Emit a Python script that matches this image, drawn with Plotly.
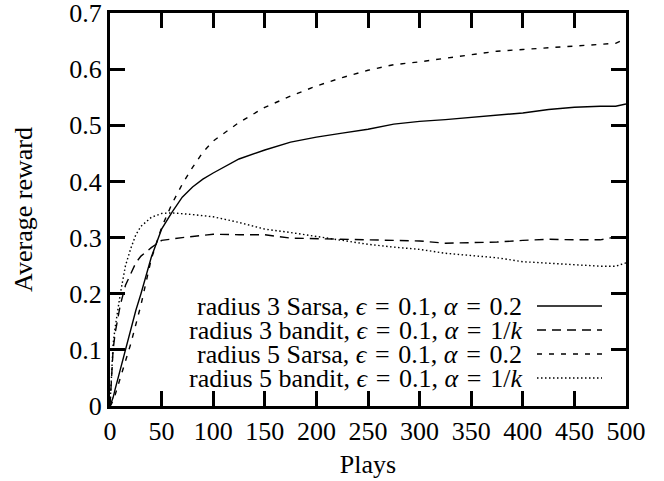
import plotly.graph_objects as go

# ---- data ----
plays = [0, 1, 3, 5, 10, 15, 20, 25, 30, 40, 50, 60, 70, 80, 90, 100, 125, 150, 175,
         200, 225, 250, 275, 300, 325, 350, 375, 400, 425, 450, 475, 490, 500]

r3_sarsa = [0.0, 0.004, 0.015, 0.03, 0.065, 0.10, 0.14, 0.17, 0.20, 0.265, 0.315, 0.345,
            0.372, 0.39, 0.404, 0.415, 0.44, 0.456, 0.47, 0.479, 0.486, 0.493, 0.502,
            0.507, 0.510, 0.514, 0.518, 0.522, 0.528, 0.532, 0.534, 0.534, 0.538]

r3_bandit = [0.0, 0.03, 0.10, 0.13, 0.18, 0.215, 0.235, 0.255, 0.267, 0.282, 0.295, 0.298,
             0.300, 0.302, 0.304, 0.306, 0.305, 0.305, 0.299, 0.298, 0.298, 0.296, 0.296,
             0.294, 0.290, 0.291, 0.292, 0.295, 0.297, 0.296, 0.296, 0.301, 0.299]

r5_sarsa = [0.0, 0.002, 0.01, 0.02, 0.05, 0.08, 0.11, 0.145, 0.18, 0.262, 0.318, 0.36,
            0.395, 0.425, 0.452, 0.472, 0.505, 0.532, 0.552, 0.570, 0.585, 0.598, 0.608,
            0.613, 0.619, 0.626, 0.632, 0.635, 0.638, 0.640, 0.643, 0.646, 0.655]

r5_bandit = [0.0, 0.04, 0.11, 0.14, 0.20, 0.25, 0.28, 0.305, 0.32, 0.336, 0.343, 0.344,
             0.343, 0.341, 0.339, 0.337, 0.327, 0.315, 0.309, 0.302, 0.296, 0.288, 0.283,
             0.279, 0.272, 0.268, 0.264, 0.257, 0.254, 0.252, 0.249, 0.249, 0.255]

EQ = "\u2004=\u2004"
labels = [
    f"radius 3 Sarsa, <i>ϵ</i>{EQ}0.1, <i>α</i>{EQ}0.2",
    f"radius 3 bandit, <i>ϵ</i>{EQ}0.1, <i>α</i>{EQ}1/<i>k</i>",
    f"radius 5 Sarsa, <i>ϵ</i>{EQ}0.1, <i>α</i>{EQ}0.2",
    f"radius 5 bandit, <i>ϵ</i>{EQ}0.1, <i>α</i>{EQ}1/<i>k</i>",
]
series = [r3_sarsa, r3_bandit, r5_sarsa, r5_bandit]
dashes = ["solid", "9px,6px", "5px,7px", "1.5px,2.5px"]

x_ticks = [0, 50, 100, 150, 200, 250, 300, 350, 400, 450, 500]
y_ticks = [0, 0.1, 0.2, 0.3, 0.4, 0.5, 0.6, 0.7]
y_tick_text = ["0", "0.1", "0.2", "0.3", "0.4", "0.5", "0.6", "0.7"]

# ---- layout geometry (pixels) ----
W, H = 664, 481
L, R, T, B = 110, 38, 13, 75
pw, ph = W - L - R, H - T - B

def px_to_paper_x(px):
    return (px - L) / pw

def px_to_paper_y(py):
    return (H - B - py) / ph

FONT = "Liberation Serif"
FS = 26

fig = go.Figure()
for ys, lab, d in zip(series, labels, dashes):
    fig.add_trace(go.Scatter(x=plays, y=ys, mode="lines", name=lab,
                             line=dict(color="black", width=1.4, dash=d),
                             showlegend=False))

# manual gnuplot-style key
row_y = [306, 330, 354, 378]
for lab, d, ry in zip(labels, dashes, row_y):
    fig.add_annotation(x=px_to_paper_x(523), y=px_to_paper_y(ry), xref="paper", yref="paper",
                       text=lab, showarrow=False, xanchor="right", yanchor="middle",
                       borderpad=0,
                       font=dict(family=FONT, size=FS, color="black"))
    fig.add_shape(type="line", xref="paper", yref="paper",
                  x0=px_to_paper_x(537), x1=px_to_paper_x(602),
                  y0=px_to_paper_y(ry), y1=px_to_paper_y(ry),
                  line=dict(color="black", width=1.4, dash=d))

axis_common = dict(showline=True, linecolor="black", linewidth=3, mirror="ticks",
                   ticks="inside", ticklen=15, tickwidth=3, tickcolor="black",
                   showgrid=False, zeroline=False, automargin=False,
                   ticklabeloverflow="allow",
                   tickfont=dict(family=FONT, size=FS, color="black"))

fig.update_layout(
    width=W, height=H,
    margin=dict(l=L, r=R, t=T, b=B),
    paper_bgcolor="white", plot_bgcolor="white",
    font=dict(family=FONT, size=FS, color="black"),
    xaxis=dict(range=[0, 500], tickvals=x_ticks, ticktext=[str(v) for v in x_ticks],
               title=dict(text="Plays", standoff=10,
                          font=dict(family=FONT, size=FS, color="black")),
               **axis_common),
    yaxis=dict(range=[0, 0.7], tickvals=y_ticks, ticktext=y_tick_text,
               title=dict(text="Average reward", standoff=30,
                          font=dict(family=FONT, size=FS, color="black")),
               **axis_common),
)

fig.write_html("out.html")
